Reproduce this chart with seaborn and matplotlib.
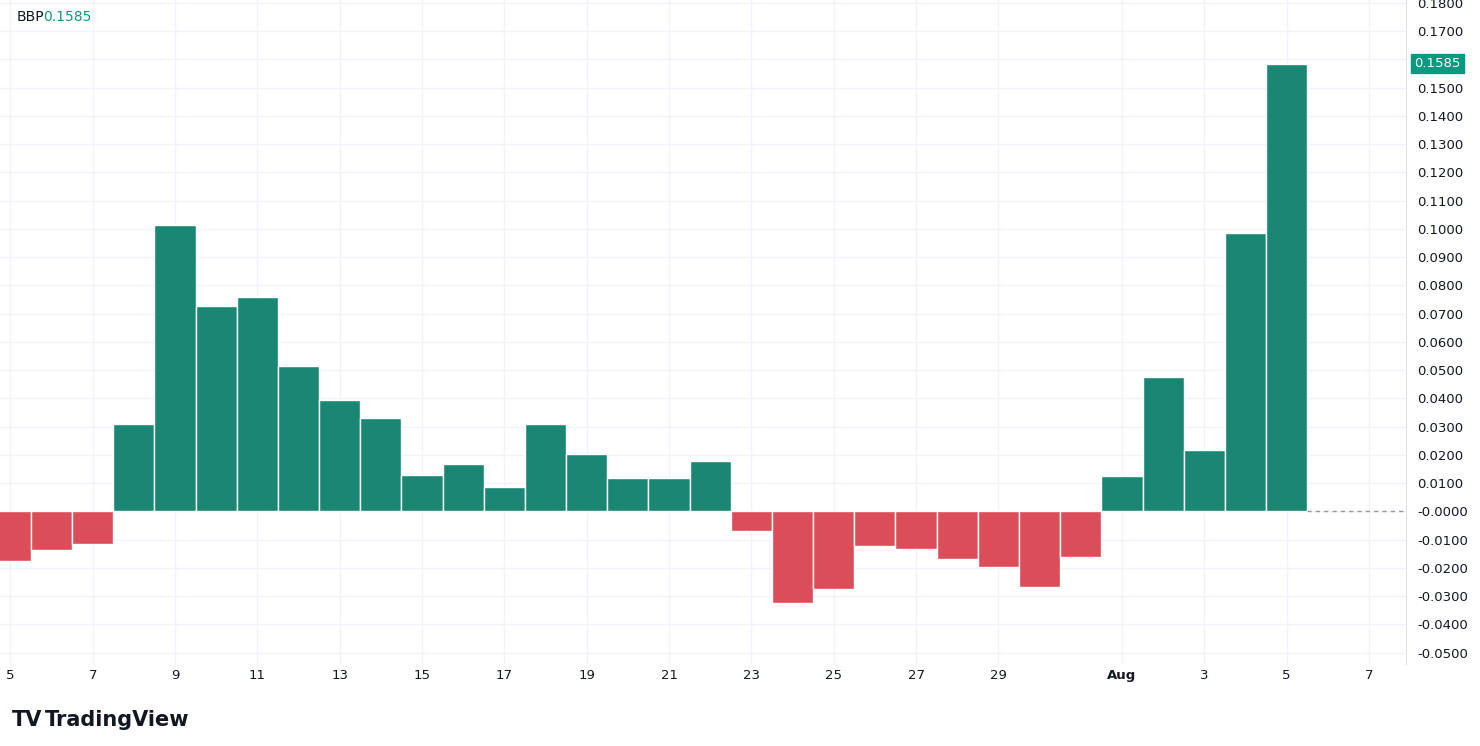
import matplotlib.pyplot as plt
import numpy as np
import pandas as pd
import seaborn as sns

# day index: July d -> d, August d -> 31 + d
days = list(range(5, 32)) + [32, 33, 34, 35, 36]
bbp = [-0.0175, -0.0137, -0.0116, 0.0308, 0.1014, 0.0727, 0.0759, 0.0514,
       0.0395, 0.0329, 0.0129, 0.0168, 0.0087, 0.0308, 0.0203, 0.0119,
       0.0119, 0.0178, -0.0070, -0.0325, -0.0273, -0.0122, -0.0133, -0.0168,
       -0.0196, -0.0269, -0.0161, 0.0126, 0.0476, 0.0217, 0.0986, 0.1585]
tick_pos = list(range(5, 30, 2)) + [32, 34, 36, 38]
tick_labels = [str(d) for d in range(5, 30, 2)] + ["Aug", "3", "5", "7"]

GREEN = "#089981"
RED = "#f23645"

df = pd.DataFrame({"day": days, "bbp": bbp})
df["sign"] = np.where(df["bbp"] >= 0, "pos", "neg")

fig = plt.figure(figsize=(14.8, 7.46), dpi=100)
ax = fig.add_axes([0.0, 0.11, 0.95, 0.89])

sns.barplot(data=df, x="day", y="bbp", hue="sign", palette={"pos": GREEN, "neg": RED},
            native_scale=True, width=1.0, edgecolor="white", linewidth=1,
            legend=False, ax=ax)

last = days[-1]
ax.plot([last + 0.5, 39], [0, 0], ls=(0, (3, 3)), color="#9598a1", lw=1)

ax.set_xlim(5 - 0.25, 38.9)
ax.set_ylim(-0.054, 0.181)
ax.set_xticks(tick_pos)
ax.set_xticklabels(tick_labels)
ax.set_yticks(np.arange(-0.05, 0.1801, 0.01))
ax.set_yticklabels([f"{v:.4f}" if abs(v) > 1e-9 else "-0.0000" for v in np.arange(-0.05, 0.1801, 0.01)])
ax.yaxis.tick_right()
ax.tick_params(axis="both", length=0, labelsize=9.5, colors="#131722")
ax.tick_params(axis="y", pad=8)
ax.grid(True, color="#f0f3fa", lw=1)
ax.set_axisbelow(True)
ax.set_xlabel("")
ax.set_ylabel("")
for s in ["top", "left", "bottom"]:
    ax.spines[s].set_visible(False)
ax.spines["right"].set_color("#e0e3eb")
for lbl in ax.get_xticklabels():
    if lbl.get_text() == "Aug":
        lbl.set_fontweight("bold")

ax.text(0.012, 0.985, "BBP", transform=ax.transAxes, fontsize=10, color="#131722", va="top")
ax.text(0.031, 0.985, f"{bbp[-1]:.4f}", transform=ax.transAxes, fontsize=10, color=GREEN, va="top")
ax.text(1.006, bbp[-1], f"{bbp[-1]:.4f}", transform=ax.get_yaxis_transform(), fontsize=9.5,
        color="white", va="center", ha="left",
        bbox=dict(boxstyle="square,pad=0.25", fc=GREEN, ec=GREEN))

fig.text(0.008, 0.035, "TV", fontsize=15, fontweight="bold", color="#131722", va="center")
fig.text(0.03, 0.035, "TradingView", fontsize=15, fontweight="bold", color="#131722", va="center")

fig.savefig("out.png", dpi=100, facecolor="white")
